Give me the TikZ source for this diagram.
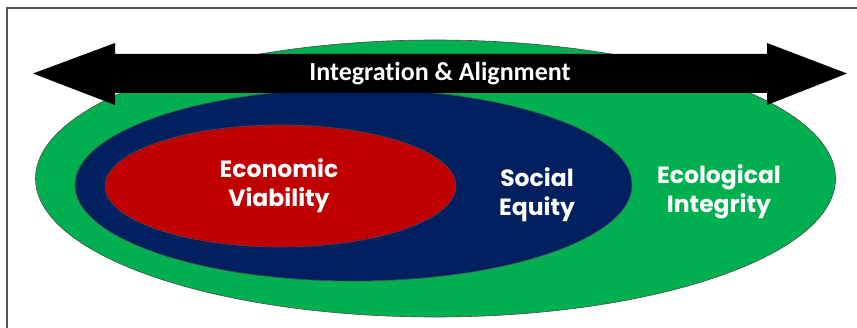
\documentclass[tikz,border=0pt]{standalone}
\usepackage{fontspec}
\usetikzlibrary{shapes.geometric}
\setmainfont{Poppins}
\newfontfamily\calib[Ligatures=NoCommon]{Carlito}
\definecolor{ecogreen}{HTML}{00B050}
\definecolor{socnavy}{HTML}{002060}
\definecolor{econred}{HTML}{C00000}
\definecolor{framegray}{HTML}{555555}
\begin{document}
\begin{tikzpicture}[x=1pt,y=-1pt,
  blob/.style={ellipse, draw=black!70, line width=0.6pt, inner sep=0pt},
  lbl/.style={text=white, font=\bfseries\fontsize{23.5}{29}\selectfont, align=center},
  arrowbar/.style={fill=black}]
\useasboundingbox (0,0) rectangle (857,328);
\draw[framegray, line width=1.5pt] (7,328) -- (7,8) -- (857,8);
\node[blob, fill=ecogreen, minimum width=800pt, minimum height=277pt] (green) at (435.5,178.5) {};
\node[blob, fill=socnavy, minimum width=557pt, minimum height=192pt] (navy) at (353.5,185) {};
\node[blob, fill=econred, minimum width=351pt, minimum height=122pt] (red) at (280.5,186) {};
\path[arrowbar] (33,73.5) -- (115,43) -- (115,54) -- (767,54) -- (767,43) -- (847,73.5)
  -- (767,105) -- (767,93) -- (115,93) -- (115,105) -- cycle;
\node[text=white, font=\calib\bfseries\fontsize{26}{30}\selectfont] (integ) at (440,73.5) {Integrat\kern0pt ion \& Alignment};
\node[lbl] (econ) at (279,186) {Economic\\Viability};
\node[lbl] (soc) at (537,194.5) {Social\\Equity};
\node[lbl] (eco) at (719,192) {Ecological\\Integrity};
\end{tikzpicture}
\end{document}
